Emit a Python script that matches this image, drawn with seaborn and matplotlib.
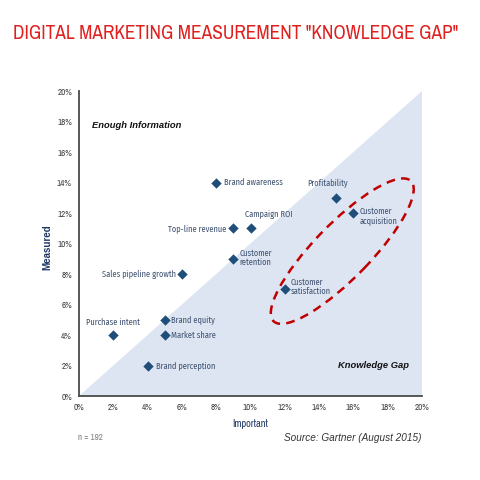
import matplotlib
matplotlib.use("Agg")
import matplotlib.pyplot as plt
from matplotlib.patches import Polygon, Ellipse
import seaborn as sns
import pandas as pd

# ---- data ----
metrics = ["Brand awareness", "Top-line revenue", "Campaign ROI", "Customer\nretention",
           "Sales pipeline growth", "Profitability", "Customer\nacquisition",
           "Customer\nsatisfaction", "Purchase intent", "Brand equity", "Market share",
           "Brand perception"]
important = [8, 9, 10, 9, 6, 15, 16, 12, 2, 5, 5, 4]
measured = [14, 11, 11, 9, 8, 13, 12, 7, 4, 5, 4, 2]
tick_values = list(range(0, 21, 2))
tick_labels = [f"{v}%" for v in tick_values]

df = pd.DataFrame({"Important": important, "Measured": measured, "metric": metrics})

sns.set_style("white")
plt.rcParams["font.family"] = ["Liberation Sans", "DejaVu Sans"]

fig = plt.figure(figsize=(4.8, 4.8), dpi=100)
ax = fig.add_axes([0.1646, 0.175, 0.7146, 0.6354])
ax.set_xlim(0, 20)
ax.set_ylim(0, 20)


def fit_width(t, target_px):
    fig.canvas.draw()
    r = fig.canvas.get_renderer()
    w = t.get_window_extent(r).width
    t.set_fontsize(t.get_fontsize() * target_px / w)
    return t.get_fontsize()


LABEL_FONT = ["Fira Sans Condensed", "Carlito", "DejaVu Sans"]

# shaded knowledge-gap triangle
ax.add_patch(Polygon([(0, 0), (20, 20), (20, 0)], closed=True,
                     facecolor="#dde5f3", edgecolor="none", zorder=0))

sns.scatterplot(data=df, x="Important", y="Measured", marker="D", s=28,
                color="#1f4e79", edgecolor="#1f4e79", linewidth=0, ax=ax, zorder=3)

place = {
    "Brand awareness": ((5.5, 0), "left", "center"),
    "Top-line revenue": ((-5, 0), "right", "center"),
    "Campaign ROI": ((-4, 7), "left", "bottom"),
    "Customer\nretention": ((4.5, 1), "left", "center"),
    "Sales pipeline growth": ((-4, 0), "right", "center"),
    "Profitability": ((-6, 7), "center", "bottom"),
    "Customer\nacquisition": ((4.5, -2), "left", "center"),
    "Customer\nsatisfaction": ((4.5, 2), "left", "center"),
    "Purchase intent": ((0, 6), "center", "bottom"),
    "Brand equity": ((4.5, 0), "left", "center"),
    "Market share": ((4.5, 0), "left", "center"),
    "Brand perception": ((6, 0), "left", "center"),
}
anns = []
for m, xv, yv in zip(metrics, important, measured):
    off, ha, va = place[m]
    a = ax.annotate(m, (xv, yv), xytext=off, textcoords="offset points", ha=ha, va=va,
                    fontsize=7, family=LABEL_FONT, color="#3f5270",
                    linespacing=1.0, zorder=4)
    anns.append(a)
size = fit_width(anns[0], 59)
for a in anns:
    a.set_fontsize(size)

# dashed ellipse
ax.add_patch(Ellipse((15.35, 9.5), width=12.2, height=3.4, angle=49.5, fill=False,
                     edgecolor="#c00000", linewidth=1.8, linestyle=(0, (3.5, 2.5)), zorder=2))

ax.set_xticks(tick_values)
ax.set_xticklabels(tick_labels)
ax.set_yticks(tick_values)
ax.set_yticklabels(tick_labels)
for lab in ax.get_xticklabels() + ax.get_yticklabels():
    lab.set_family(["Archivo Narrow", "DejaVu Sans"])
    lab.set_fontsize(6.5)
    lab.set_color("#404040")
ax.tick_params(axis="both", direction="out", length=3, width=0.8, color="#404040", pad=2)

for s in ["top", "right"]:
    ax.spines[s].set_visible(False)
for s in ["left", "bottom"]:
    ax.spines[s].set_color("#4a4a4a")
    ax.spines[s].set_linewidth(1.3)

xl = ax.set_xlabel("Important", fontsize=7, fontweight="bold", color="#1f3864",
                   family=["Archivo Narrow", "DejaVu Sans"])
yl = ax.set_ylabel("Measured", fontsize=7, fontweight="bold", color="#1f3864",
                   family=["Liberation Sans", "DejaVu Sans"])
ax.xaxis.set_label_coords((250 - 79) / 343, (396 - 419) / 305)
ax.yaxis.set_label_coords((52 - 79) / 343, (396 - 247) / 305)
fit_width(xl, 36)

t1 = ax.text(0.76, 17.77, "Enough Information", fontsize=7, fontweight="bold", style="italic",
             color="#111111", va="center", ha="left", family=["Liberation Sans", "DejaVu Sans"])
t2 = ax.text(19.25, 1.97, "Knowledge Gap", fontsize=7, fontweight="bold", style="italic",
             color="#111111", va="center", ha="right", family=["Liberation Sans", "DejaVu Sans"])
fit_width(t1, 90)
fit_width(t2, 71)

title = fig.text(0.49, 0.931, 'DIGITAL MARKETING MEASUREMENT "KNOWLEDGE GAP"', ha="center",
                 va="center", fontsize=16, color="#e0201f",
                 family=["Archivo Narrow", "DejaVu Sans"])
fit_width(title, 444)
fig.text(78 / 480, 1 - 437 / 480, "n = 192", fontsize=6.5, color="#808080",
         family=["Archivo Narrow", "DejaVu Sans"], va="center", ha="left")
src = fig.text(422 / 480, 1 - 438 / 480, "Source: Gartner (August 2015)", fontsize=8.3,
               color="#333333", style="italic", family=["Liberation Sans", "DejaVu Sans"],
               va="center", ha="right")
fit_width(src, 136)

fig.savefig("out.png", dpi=100)
